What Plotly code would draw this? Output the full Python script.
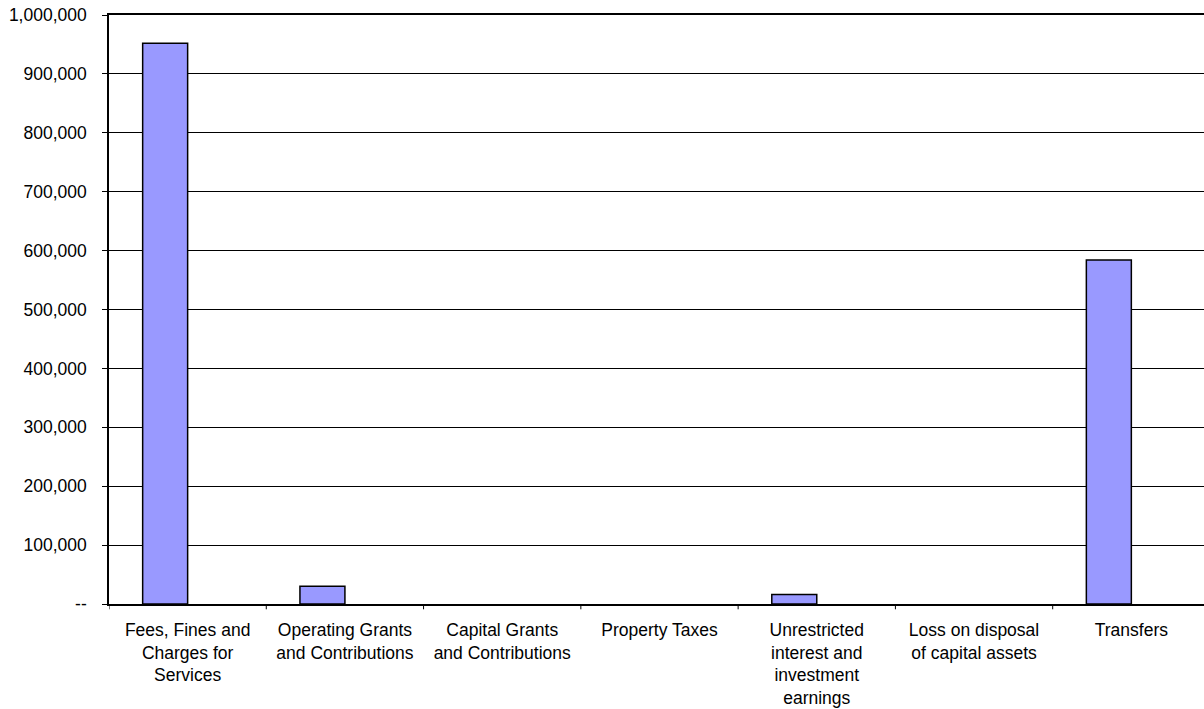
import plotly.graph_objects as go

# Revenue categories and amounts
categories = [
    "Fees, Fines and<br>Charges for<br>Services",
    "Operating Grants<br>and Contributions",
    "Capital Grants<br>and Contributions",
    "Property Taxes",
    "Unrestricted<br>interest and<br>investment<br>earnings",
    "Loss on disposal<br>of capital assets",
    "Transfers",
]
amounts = [952000, 30000, 0, 0, 16000, 0, 584000]

y_ticks = [0, 100000, 200000, 300000, 400000, 500000, 600000, 700000, 800000, 900000, 1000000]
y_tick_text = ["--"] + [f"{v:,}" for v in y_ticks[1:]]

font_family = "Liberation Sans, Arial, sans-serif"

# Empty categories get no outline so nothing is drawn for them
outline_widths = [1.5 if v else 0 for v in amounts]

fig = go.Figure(
    go.Bar(
        x=list(range(len(categories))),
        y=amounts,
        width=0.286,
        offset=-0.286,
        marker=dict(color="#9999FF", line=dict(color="#000000", width=outline_widths)),
    )
)

fig.update_layout(
    width=1204,
    height=709,
    margin=dict(l=109, r=0, t=15, b=105),
    paper_bgcolor="white",
    plot_bgcolor="white",
    showlegend=False,
    font=dict(family=font_family, size=17.5, color="#000000"),
)

fig.update_xaxes(
    tickmode="array",
    tickvals=list(range(len(categories))),
    ticktext=categories,
    range=[-0.5, 6.462],
    showgrid=False,
    showline=True,
    linecolor="#000000",
    linewidth=1.5,
    mirror=True,
    ticks="",
    zeroline=False,
    tickangle=0,
    ticklabelstandoff=9,
)

# Boundary ticks between categories on the category axis
for i in range(len(categories)):
    fig.add_shape(
        type="line", xref="x", yref="paper",
        x0=i - 0.5, x1=i - 0.5, y0=0, y1=-0.009,
        line=dict(color="#000000", width=1),
    )

fig.update_yaxes(
    range=[0, 1000000],
    tickmode="array",
    tickvals=y_ticks,
    ticktext=y_tick_text,
    showgrid=True,
    gridcolor="#000000",
    gridwidth=1,
    showline=True,
    linecolor="#000000",
    linewidth=1.5,
    ticks="outside",
    ticklen=5,
    tickcolor="#000000",
    zeroline=False,
    ticklabelstandoff=12,
)

fig.write_html("out.html")
